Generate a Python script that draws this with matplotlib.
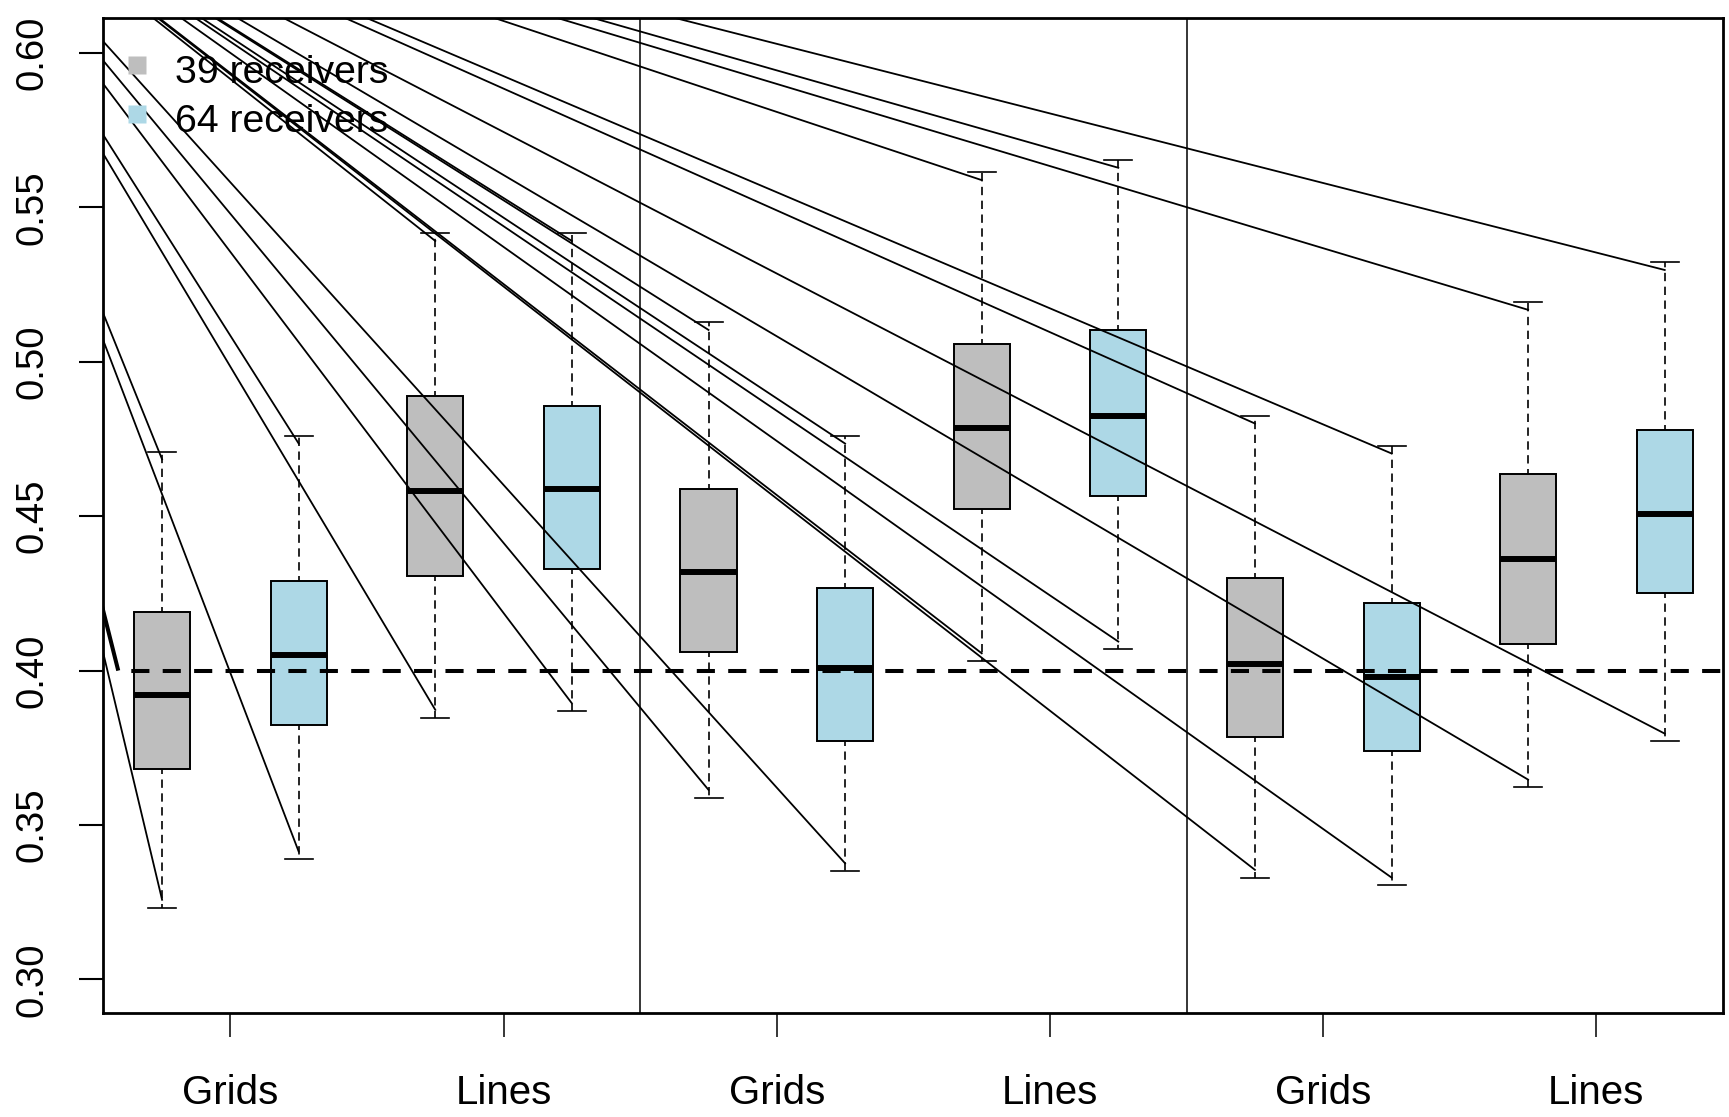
import numpy as np
import matplotlib.pyplot as plt

# box statistics (boxes 1..12, gray = 39 receivers, blue = 64 receivers)
q1 = [0.368, 0.3824, 0.4307, 0.4328, 0.4061, 0.3771, 0.4522, 0.4566, 0.3784, 0.3739, 0.4087, 0.425]
med = [0.392, 0.4049, 0.4581, 0.4587, 0.432, 0.4009, 0.4786, 0.4825, 0.4023, 0.3978, 0.436, 0.4508]
q3 = [0.419, 0.429, 0.489, 0.4857, 0.4587, 0.4268, 0.5058, 0.5103, 0.43, 0.4218, 0.4637, 0.4779]
whislo = [0.3233, 0.3389, 0.3848, 0.3869, 0.3589, 0.3351, 0.4031, 0.4069, 0.333, 0.3305, 0.3622, 0.3771]
whishi = [0.4709, 0.476, 0.5416, 0.5416, 0.5128, 0.476, 0.5613, 0.5653, 0.4825, 0.4728, 0.5193, 0.5322]

groups = ['Grids', 'Lines', 'Grids', 'Lines', 'Grids', 'Lines']
legend_labels = ['39 receivers', '64 receivers']
colors = ['#BEBEBE', '#ADD8E6']
target = 0.4
separators = [4.5, 8.5]
yticks = [0.30, 0.35, 0.40, 0.45, 0.50, 0.55, 0.60]

# stray strokes in the original all run from one point outside the plot
ray_origin = (-0.882, 0.6748)
inset = 0.0025

plt.rcParams['font.family'] = ['Liberation Sans', 'DejaVu Sans']
fs = 27.5

fig = plt.figure(figsize=(17.29, 11.17), dpi=100)
ax = fig.add_axes([0.0593, 0.0927, 0.9375, 0.8915])

n = len(med)
pos = np.arange(1, n + 1)
stats = [dict(q1=q1[i], med=med[i], q3=q3[i], whislo=whislo[i], whishi=whishi[i], fliers=[])
         for i in range(n)]
bp = ax.bxp(stats, positions=pos, widths=0.41, capwidths=0.205, patch_artist=True,
            showfliers=False,
            boxprops=dict(edgecolor='black', linewidth=1.4),
            medianprops=dict(color='black', linewidth=4.3, solid_capstyle='butt'),
            whiskerprops=dict(color='black', linewidth=1.2, linestyle=(2, (5, 3.3))),
            capprops=dict(color='black', linewidth=1.2))
for i, b in enumerate(bp['boxes']):
    b.set_facecolor(colors[i % 2])
    b.set_zorder(2)

# rays to the whisker ends
for i in range(n):
    for yend in (whishi[i] - inset, whislo[i] + inset):
        ax.plot([ray_origin[0], pos[i]], [ray_origin[1], yend], color='black', lw=1.3, zorder=4)

# reference level, with its short stray stroke at the left edge
ax.plot([ray_origin[0], 0.679], [ray_origin[1], target], color='black', lw=2.9,
        solid_capstyle='butt', zorder=4)
ax.plot([0.679, 13], [target, target], color='black', lw=2.9,
        linestyle=(4.5, (4.5, 3.3)), dash_capstyle='butt', zorder=4)

for s in separators:
    ax.axvline(s, color='black', lw=1.1, zorder=1)

ax.set_xlim(0.564, 12.43)
ax.set_ylim(0.289, 0.6114)

ax.set_xticks(pos[::2] + 0.5)
ax.set_xticklabels(groups, fontsize=29)
ax.set_yticks(yticks)
ax.set_yticklabels(['%.2f' % v for v in yticks], fontsize=fs, rotation=90, va='center')
ax.tick_params(axis='x', length=17.3, width=1.1, pad=26)
ax.tick_params(axis='y', length=17.3, width=1.5, pad=20)
for sp in ax.spines.values():
    sp.set_linewidth(2.0)

# legend, no frame
for k in range(2):
    yk = 0.9524 - k * 0.0487
    ax.plot([0.0211], [yk], marker='s', ms=12.7, color=colors[k], mec='none',
            transform=ax.transAxes, clip_on=False, zorder=5)
    ax.text(0.0447, yk - 0.008, legend_labels[k], fontsize=28.3, transform=ax.transAxes,
            ha='left', va='center', zorder=5)

fig.savefig('out.png', dpi=100)
